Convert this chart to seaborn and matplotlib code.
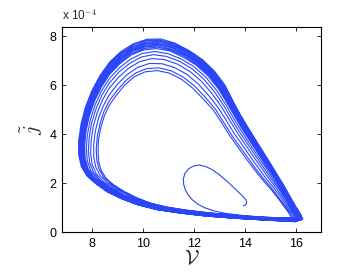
import matplotlib
matplotlib.use("Agg")
import matplotlib.pyplot as plt
import pandas as pd
import seaborn as sns

# trajectory: V and j (j in units of 1e-4)
# transient spiralling out of the fixed point
spiral = [(13.94, 1.07), (14.00, 1.10), (14.06, 1.16), (14.07, 1.24), (14.02, 1.34), (13.92, 1.46),
          (13.78, 1.60), (13.60, 1.78), (13.40, 1.98), (13.18, 2.18), (12.95, 2.38), (12.70, 2.56),
          (12.45, 2.68), (12.20, 2.74), (11.98, 2.70), (11.78, 2.58), (11.64, 2.40), (11.58, 2.18),
          (11.59, 1.95), (11.66, 1.72), (11.78, 1.50), (11.95, 1.30), (12.18, 1.12), (12.45, .98),
          (12.80, .86), (13.25, .76), (13.90, .68), (14.60, .62), (15.30, .58), (15.65, .57)]

# successive turns of the attractor
loop_01 = [(15.85, .58), (15.72, .80), (15.52, 1.08), (15.28, 1.42), (15.00, 1.78), (14.70, 2.13),
           (14.38, 2.55), (14.05, 3.00), (13.72, 3.48), (13.40, 3.95), (13.08, 4.48), (12.75, 5.00),
           (12.35, 5.45), (11.95, 5.88), (11.50, 6.25), (11.02, 6.50), (10.55, 6.60), (10.08, 6.55),
           (9.65, 6.35), (9.28, 6.02), (8.96, 5.62), (8.66, 5.18), (8.47, 4.75), (8.33, 4.28),
           (8.24, 3.78), (8.22, 3.28), (8.25, 2.85), (8.35, 2.50), (8.55, 2.18), (8.85, 1.92),
           (9.25, 1.66), (9.75, 1.40), (10.30, 1.18), (10.95, 1.02), (11.70, .90), (12.50, .80),
           (13.35, .71), (14.20, .64), (14.90, .60), (15.40, .58), (15.70, .57)]
loop_02 = [(15.89, .57), (15.77, .80), (15.57, 1.08), (15.33, 1.42), (15.06, 1.79), (14.76, 2.15),
           (14.44, 2.57), (14.12, 3.03), (13.79, 3.51), (13.47, 3.98), (13.15, 4.51), (12.83, 5.04),
           (12.44, 5.51), (12.04, 5.95), (11.58, 6.33), (11.10, 6.59), (10.62, 6.71), (10.14, 6.68),
           (9.70, 6.50), (9.31, 6.19), (8.98, 5.80), (8.66, 5.36), (8.45, 4.92), (8.30, 4.43),
           (8.19, 3.91), (8.15, 3.39), (8.17, 2.94), (8.26, 2.57), (8.45, 2.23), (8.74, 1.96),
           (9.14, 1.69), (9.63, 1.43), (10.18, 1.20), (10.83, 1.03), (11.58, .90), (12.39, .80),
           (13.26, .71), (14.13, .63), (14.87, .59), (15.41, .57), (15.73, .56)]
loop_03 = [(15.96, .57), (15.84, .79), (15.64, 1.07), (15.41, 1.43), (15.14, 1.81), (14.85, 2.17),
           (14.54, 2.61), (14.22, 3.07), (13.90, 3.56), (13.58, 4.03), (13.27, 4.56), (12.94, 5.10),
           (12.57, 5.59), (12.16, 6.06), (11.71, 6.45), (11.22, 6.73), (10.73, 6.88), (10.24, 6.89),
           (9.78, 6.73), (9.37, 6.44), (9.00, 6.06), (8.67, 5.62), (8.43, 5.16), (8.24, 4.66),
           (8.11, 4.11), (8.05, 3.56), (8.05, 3.08), (8.13, 2.66), (8.30, 2.31), (8.58, 2.02),
           (8.96, 1.75), (9.45, 1.47), (10.00, 1.23), (10.65, 1.05), (11.40, .91), (12.23, .80),
           (13.11, .70), (14.03, .62), (14.83, .58), (15.43, .55), (15.78, .53)]
loop_04 = [(16.02, .56), (15.90, .78), (15.71, 1.07), (15.48, 1.43), (15.22, 1.82), (14.94, 2.20),
           (14.64, 2.64), (14.32, 3.11), (14.00, 3.60), (13.69, 4.08), (13.38, 4.61), (13.06, 5.15),
           (12.70, 5.67), (12.29, 6.16), (11.83, 6.57), (11.33, 6.87), (10.83, 7.05), (10.33, 7.09),
           (9.85, 6.96), (9.42, 6.69), (9.02, 6.32), (8.67, 5.89), (8.40, 5.41), (8.19, 4.88),
           (8.03, 4.31), (7.95, 3.73), (7.93, 3.21), (7.99, 2.76), (8.15, 2.38), (8.42, 2.07),
           (8.79, 1.80), (9.27, 1.50), (9.82, 1.26), (10.47, 1.06), (11.22, .91), (12.06, .79),
           (12.97, .69), (13.92, .61), (14.78, .56), (15.44, .53), (15.82, .51)]
loop_05 = [(16.07, .55), (15.96, .77), (15.77, 1.06), (15.54, 1.44), (15.29, 1.83), (15.01, 2.22),
           (14.71, 2.67), (14.40, 3.15), (14.08, 3.64), (13.77, 4.12), (13.46, 4.65), (13.15, 5.20),
           (12.80, 5.74), (12.39, 6.24), (11.93, 6.67), (11.43, 6.98), (10.91, 7.18), (10.40, 7.25),
           (9.91, 7.15), (9.46, 6.89), (9.04, 6.54), (8.67, 6.10), (8.38, 5.61), (8.15, 5.06),
           (7.97, 4.47), (7.87, 3.86), (7.84, 3.32), (7.89, 2.84), (8.04, 2.44), (8.29, 2.12),
           (8.65, 1.84), (9.13, 1.54), (9.68, 1.28), (10.33, 1.07), (11.08, .91), (11.93, .79),
           (12.86, .68), (13.84, .60), (14.74, .55), (15.45, .51), (15.86, .49)]
loop_06 = [(16.12, .54), (16.01, .77), (15.82, 1.06), (15.59, 1.44), (15.34, 1.84), (15.07, 2.24),
           (14.78, 2.69), (14.47, 3.17), (14.15, 3.67), (13.85, 4.15), (13.54, 4.68), (13.23, 5.24),
           (12.89, 5.79), (12.48, 6.31), (12.01, 6.75), (11.50, 7.07), (10.98, 7.29), (10.46, 7.38),
           (9.96, 7.30), (9.49, 7.06), (9.06, 6.71), (8.67, 6.28), (8.36, 5.77), (8.11, 5.21),
           (7.92, 4.60), (7.80, 3.97), (7.76, 3.41), (7.80, 2.90), (7.94, 2.49), (8.19, 2.16),
           (8.54, 1.87), (9.01, 1.56), (9.56, 1.30), (10.21, 1.08), (10.96, .91), (11.82, .79),
           (12.76, .68), (13.77, .60), (14.71, .54), (15.46, .50), (15.89, .48)]
loop_07 = [(16.16, .54), (16.05, .76), (15.86, 1.06), (15.64, 1.44), (15.39, 1.85), (15.13, 2.25),
           (14.83, 2.71), (14.53, 3.20), (14.22, 3.69), (13.91, 4.18), (13.61, 4.71), (13.30, 5.27),
           (12.97, 5.84), (12.55, 6.38), (12.09, 6.82), (11.57, 7.15), (11.05, 7.40), (10.52, 7.50),
           (10.01, 7.44), (9.52, 7.24), (9.07, 6.87), (8.67, 6.44), (8.35, 5.92), (8.08, 5.35),
           (7.87, 4.72), (7.74, 4.08), (7.69, 3.49), (7.72, 2.96), (7.85, 2.54), (8.09, 2.19),
           (8.43, 1.90), (8.90, 1.58), (9.45, 1.32), (10.10, 1.09), (10.85, .91), (11.72, .79),
           (12.68, .67), (13.70, .59), (14.69, .53), (15.47, .49), (15.91, .46)]
loop_08 = [(16.17, .54), (16.07, .76), (15.88, 1.06), (15.66, 1.44), (15.41, 1.86), (15.15, 2.26),
           (14.86, 2.72), (14.55, 3.21), (14.25, 3.71), (13.94, 4.20), (13.64, 4.72), (13.33, 5.29),
           (13.00, 5.86), (12.59, 6.41), (12.12, 6.85), (11.61, 7.19), (11.08, 7.44), (10.55, 7.56),
           (10.03, 7.50), (9.54, 7.28), (9.08, 6.94), (8.68, 6.51), (8.34, 5.99), (8.07, 5.41),
           (7.85, 4.77), (7.72, 4.12), (7.66, 3.53), (7.68, 2.99), (7.81, 2.56), (8.05, 2.21),
           (8.39, 1.92), (8.85, 1.60), (9.40, 1.33), (10.05, 1.10), (10.80, .92), (11.68, .79),
           (12.64, .67), (13.68, .59), (14.68, .53), (15.48, .48), (15.93, .46)]
loop_09 = [(16.19, .53), (16.08, .76), (15.90, 1.06), (15.68, 1.44), (15.43, 1.86), (15.17, 2.26),
           (14.89, 2.73), (14.58, 3.22), (14.27, 3.72), (13.97, 4.21), (13.66, 4.73), (13.36, 5.30),
           (13.04, 5.88), (12.62, 6.43), (12.16, 6.88), (11.64, 7.23), (11.10, 7.48), (10.57, 7.61),
           (10.05, 7.56), (9.55, 7.35), (9.09, 7.01), (8.68, 6.58), (8.34, 6.05), (8.05, 5.47),
           (7.83, 4.82), (7.69, 4.16), (7.63, 3.56), (7.65, 3.01), (7.77, 2.58), (8.00, 2.22),
           (8.34, 1.93), (8.80, 1.61), (9.35, 1.34), (10.00, 1.10), (10.75, .92), (11.63, .78),
           (12.60, .67), (13.65, .58), (14.66, .52), (15.48, .48), (15.94, .45)]
loop_10 = [(16.21, .53), (16.10, .76), (15.92, 1.06), (15.69, 1.45), (15.45, 1.86), (15.20, 2.27),
           (14.91, 2.74), (14.60, 3.23), (14.30, 3.73), (14.00, 4.22), (13.69, 4.75), (13.39, 5.31),
           (13.07, 5.90), (12.65, 6.46), (12.19, 6.91), (11.67, 7.26), (11.13, 7.53), (10.59, 7.66),
           (10.06, 7.61), (9.56, 7.41), (9.09, 7.07), (8.68, 6.64), (8.33, 6.11), (8.04, 5.52),
           (7.81, 4.87), (7.67, 4.20), (7.60, 3.59), (7.62, 3.04), (7.73, 2.59), (7.97, 2.23),
           (8.30, 1.94), (8.76, 1.61), (9.31, 1.35), (9.96, 1.10), (10.71, .92), (11.59, .78),
           (12.57, .67), (13.62, .58), (14.65, .52), (15.48, .47), (15.95, .45)]
loop_11 = [(16.22, .53), (16.12, .76), (15.93, 1.05), (15.71, 1.45), (15.47, 1.87), (15.22, 2.28),
           (14.93, 2.75), (14.63, 3.24), (14.32, 3.74), (14.02, 4.23), (13.72, 4.76), (13.41, 5.33),
           (13.10, 5.92), (12.68, 6.48), (12.21, 6.94), (11.69, 7.29), (11.15, 7.56), (10.61, 7.70),
           (10.08, 7.67), (9.57, 7.46), (9.10, 7.13), (8.68, 6.70), (8.32, 6.17), (8.03, 5.57),
           (7.79, 4.92), (7.64, 4.24), (7.57, 3.62), (7.58, 3.06), (7.70, 2.61), (7.93, 2.25),
           (8.26, 1.95), (8.72, 1.62), (9.27, 1.35), (9.92, 1.11), (10.67, .92), (11.55, .78),
           (12.53, .67), (13.60, .58), (14.64, .51), (15.49, .47), (15.96, .44)]
loop_12 = [(16.24, .53), (16.13, .76), (15.95, 1.05), (15.73, 1.45), (15.49, 1.87), (15.24, 2.28),
           (14.95, 2.76), (14.65, 3.25), (14.35, 3.75), (14.05, 4.25), (13.74, 4.77), (13.44, 5.34),
           (13.13, 5.94), (12.71, 6.51), (12.24, 6.97), (11.72, 7.33), (11.18, 7.60), (10.64, 7.75),
           (10.10, 7.72), (9.59, 7.52), (9.11, 7.20), (8.68, 6.77), (8.32, 6.23), (8.02, 5.62),
           (7.78, 4.96), (7.62, 4.28), (7.54, 3.66), (7.55, 3.08), (7.67, 2.63), (7.89, 2.26),
           (8.22, 1.96), (8.68, 1.63), (9.23, 1.36), (9.88, 1.11), (10.63, .92), (11.52, .78),
           (12.50, .67), (13.58, .58), (14.63, .51), (15.49, .47), (15.97, .44)]
loop_13 = [(16.25, .52), (16.15, .75), (15.97, 1.05), (15.75, 1.45), (15.51, 1.87), (15.26, 2.29),
           (14.98, 2.76), (14.67, 3.26), (14.37, 3.76), (14.07, 4.26), (13.77, 4.78), (13.47, 5.35),
           (13.16, 5.96), (12.74, 6.53), (12.27, 6.99), (11.75, 7.36), (11.20, 7.64), (10.66, 7.80),
           (10.12, 7.77), (9.60, 7.58), (9.11, 7.26), (8.68, 6.83), (8.31, 6.28), (8.00, 5.68),
           (7.76, 5.01), (7.60, 4.32), (7.51, 3.69), (7.52, 3.10), (7.63, 2.65), (7.85, 2.27),
           (8.18, 1.98), (8.63, 1.64), (9.18, 1.37), (9.83, 1.11), (10.58, .92), (11.48, .78),
           (12.47, .66), (13.55, .57), (14.62, .51), (15.49, .46), (15.98, .43)]
loop_14 = [(16.27, .52), (16.17, .75), (15.99, 1.05), (15.76, 1.45), (15.53, 1.88), (15.28, 2.30),
           (15.00, 2.77), (14.70, 3.27), (14.40, 3.77), (14.10, 4.27), (13.80, 4.79), (13.50, 5.37),
           (13.19, 5.98), (12.77, 6.56), (12.30, 7.02), (11.77, 7.39), (11.23, 7.68), (10.68, 7.84),
           (10.13, 7.83), (9.61, 7.64), (9.12, 7.32), (8.68, 6.89), (8.31, 6.34), (7.99, 5.73),
           (7.74, 5.06), (7.58, 4.36), (7.49, 3.72), (7.49, 3.13), (7.60, 2.66), (7.82, 2.29),
           (8.14, 1.99), (8.59, 1.65), (9.14, 1.37), (9.79, 1.12), (10.54, .92), (11.44, .78),
           (12.43, .66), (13.53, .57), (14.61, .50), (15.50, .45), (15.99, .43)]
loop_15 = [(16.28, .52), (16.18, .75), (16.00, 1.05), (15.78, 1.45), (15.55, 1.88), (15.30, 2.30),
           (15.02, 2.78), (14.72, 3.28), (14.42, 3.78), (14.12, 4.28), (13.82, 4.80), (13.52, 5.38),
           (13.22, 6.00), (12.80, 6.58), (12.33, 7.05), (11.80, 7.42), (11.25, 7.72), (10.70, 7.89),
           (10.15, 7.88), (9.62, 7.70), (9.12, 7.38), (8.68, 6.95), (8.30, 6.40), (7.98, 5.78),
           (7.72, 5.10), (7.55, 4.40), (7.46, 3.75), (7.46, 3.15), (7.56, 2.68), (7.78, 2.30),
           (8.10, 2.00), (8.55, 1.66), (9.10, 1.38), (9.75, 1.12), (10.50, .92), (11.40, .78),
           (12.40, .66), (13.50, .57), (14.60, .50), (15.50, .45), (16.00, .42)]

x_ticks = [8, 10, 12, 14, 16]
y_ticks = [0, 2, 4, 6, 8]

pts = spiral + loop_01 + loop_02 + loop_03 + loop_04 + loop_05 + loop_06 + loop_07 \
    + loop_08 + loop_09 + loop_10 + loop_11 + loop_12 + loop_13 + loop_14 + loop_15
df = pd.DataFrame(pts, columns=["V", "j"])

sns.set_style("white")
plt.rcParams["font.family"] = ["Liberation Sans", "DejaVu Sans"]
plt.rcParams["mathtext.fontset"] = "cm"

fig = plt.figure(figsize=(3.54, 2.73), dpi=100)
ax = fig.add_axes([0.175, 0.150, 0.732, 0.751])
sns.lineplot(data=df, x="V", y="j", sort=False, estimator=None,
             color="#2a46f8", lw=0.8, ax=ax)

ax.set_xlim(6.8, 17.0)
ax.set_ylim(0, 8.38)
ax.set_xticks(x_ticks)
ax.set_yticks(y_ticks)
ax.tick_params(direction="in", length=3, width=0.6, labelsize=9, pad=4,
               top=True, right=True, bottom=True, left=True, colors="black")
for s in ax.spines.values():
    s.set_color("black"); s.set_linewidth(0.8)

ax.set_xlabel(r"$\mathcal{V}$", fontsize=15, labelpad=0)
ax.set_ylabel(r"$\tilde{j}$", fontsize=15, labelpad=3)
ax.text(0.0, 1.02, r"x 10$^{-4}$", transform=ax.transAxes, fontsize=8.5,
        ha="left", va="bottom")

fig.savefig("out.png", dpi=100)
